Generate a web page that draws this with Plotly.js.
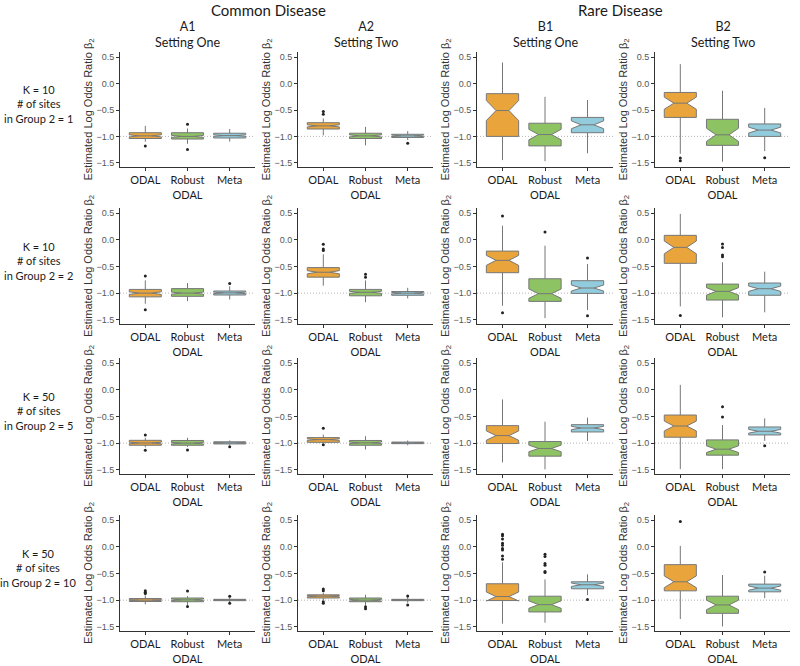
<!DOCTYPE html>
<html>
<head>
<meta charset="utf-8">
<script src="https://cdn.plot.ly/plotly-3.0.1.min.js"></script>
<style>html,body{margin:0;padding:0;background:#fff;}</style>
</head>
<body>
<div id="chart" style="width:800px;height:666px;"></div>
<script>
// Categories (x axis) and colours per method
const methods = ['ODAL', 'Robust<br>ODAL', 'Meta'];
const methodColors = ['#E9A53B', '#8DC362', '#92CCDC'];

// Panel headers
const columnTitles = ['A1<br>Setting One', 'A2<br>Setting Two', 'B1<br>Setting One', 'B2<br>Setting Two'];
const groupTitles = ['Common Disease', 'Rare Disease'];
const rowTitles = ['K = 10<br># of sites<br>in Group 2 = 1', 'K = 10<br># of sites<br>in Group 2 = 2',
                   'K = 50<br># of sites<br>in Group 2 = 5', 'K = 50<br># of sites<br>in Group 2 = 10'];
const yTicks = [-1.5, -1.0, -0.5, 0.0, 0.5];
const trueValue = -1.0;

// Box statistics per panel (row-major: row1 A1,A2,B1,B2, row2 ...), each [ODAL, Robust ODAL, Meta]
const Q3 = [
  [-0.93, -0.93, -0.94], [-0.74, -0.94, -0.96], [-0.19, -0.75, -0.64], [-0.167, -0.676, -0.764],
  [-0.93, -0.915, -0.96], [-0.52, -0.93, -0.97], [-0.21, -0.73, -0.766], [0.086, -0.83, -0.81],
  [-0.947, -0.95, -0.975], [-0.896, -0.95, -0.98], [-0.671, -0.97, -0.653], [-0.472, -0.939, -0.696],
  [-0.97, -0.96, -0.985], [-0.9, -0.96, -0.985], [-0.692, -0.926, -0.655], [-0.333, -0.926, -0.699]
];
const MED = [
  [-0.99, -1.0, -0.985], [-0.8, -0.99, -0.99], [-0.51, -0.965, -0.78], [-0.37, -0.97, -0.88],
  [-1.0, -1.0, -0.995], [-0.607, -0.985, -1.0], [-0.384, -1.01, -0.904], [-0.14, -0.967, -0.917],
  [-0.997, -1.0, -0.995], [-0.934, -0.995, -0.995], [-0.858, -1.10, -0.715], [-0.678, -1.114, -0.777],
  [-1.0, -0.995, -0.995], [-0.925, -1.0, -0.995], [-0.932, -1.084, -0.711], [-0.655, -1.09, -0.774]
];
const Q1 = [
  [-1.04, -1.05, -1.03], [-0.86, -1.04, -1.02], [-1.0, -1.18, -0.93], [-0.64, -1.17, -1.0],
  [-1.07, -1.06, -1.035], [-0.70, -1.05, -1.04], [-0.616, -1.155, -1.005], [-0.44, -1.13, -1.04],
  [-1.04, -1.04, -1.015], [-0.985, -1.04, -1.01], [-1.008, -1.245, -0.79], [-0.889, -1.226, -0.846],
  [-1.025, -1.03, -1.01], [-0.96, -1.03, -1.01], [-1.008, -1.222, -0.787], [-0.825, -1.248, -0.844]
];
const HI = [
  [-0.8, -0.85, -0.86], [-0.66, -0.82, -0.9], [0.40, -0.25, -0.31], [0.37, -0.135, -0.46],
  [-0.76, -0.81, -0.87], [-0.27, -0.76, -0.9], [0.268, -0.108, -0.453], [0.49, -0.42, -0.597],
  [-0.9, -0.9, -0.95], [-0.84, -0.87, -0.95], [-0.179, -0.597, -0.52], [0.095, -0.66, -0.534],
  [-0.91, -0.925, -0.95], [-0.86, -0.9, -0.94], [-0.289, -0.61, -0.516], [0.02, -0.528, -0.54]
];
const LO = [
  [-1.1, -1.14, -1.1], [-0.98, -1.17, -1.07], [-1.45, -1.47, -1.32], [-1.33, -1.48, -1.28],
  [-1.2, -1.15, -1.12], [-0.86, -1.17, -1.1], [-1.237, -1.47, -1.318], [-1.25, -1.456, -1.36],
  [-1.08, -1.07, -1.03], [-1.0, -1.12, -1.04], [-1.363, -1.494, -0.958], [-1.488, -1.488, -0.958],
  [-1.08, -1.09, -1.04], [-1.0, -1.1, -1.05], [-1.443, -1.424, -0.907], [-1.355, -1.494, -0.964]
];
const NOTCH = [
  [0.02, 0.02, 0.015], [0.02, 0.02, 0.015], [0.19, 0.10, 0.075], [0.115, 0.125, 0.055],
  [0.025, 0.02, 0.015], [0.03, 0.02, 0.015], [0.094, 0.088, 0.057], [0.12, 0.07, 0.05],
  [0.015, 0.015, 0.01], [0.015, 0.015, 0.01], [0.088, 0.063, 0.031], [0.093, 0.063, 0.035],
  [0.01, 0.015, 0.008], [0.012, 0.015, 0.008], [0.085, 0.07, 0.032], [0.11, 0.09, 0.04]
];
const OUTLIERS = [
  [[-1.18], [-0.77, -1.25], []], [[-0.53, -0.58], [], [-1.13]], [[], [], []], [[-1.41, -1.46], [], [-1.405]],
  [[-0.68, -1.31], [], [-0.82]], [[-0.08, -0.17, -0.2], [-0.645, -0.7], []], [[0.45, -1.37], [0.149], [-0.34, -1.425]], [[-1.42], [-0.077, -0.14, -0.284, -0.315], []],
  [[-0.845, -1.135], [-1.13], [-1.07]], [[-0.72, -1.03], [], []], [[], [], []], [[], [-0.316, -0.509], [-1.05]],
  [[-0.825, -0.85, -0.875], [-0.83, -1.12], [-0.925, -1.06]], [[-0.79, -0.825, -1.03, -1.06], [-1.125, -1.16], [-0.92, -1.09]],
  [[0.24, 0.21, 0.15, 0.07, 0.03, -0.03, -0.06, -0.17, -0.23], [-0.137, -0.18, -0.31, -0.345, -0.46, -0.48], [-0.989]],
  [[0.48], [], [-0.47]]
];

// Layout geometry (pixels)
const W = 800, H = 666;
const colPx = [[120, 255], [298, 433], [477, 613], [655, 790]];
const rowPx = [[52, 167], [208, 324], [358, 474], [515, 631]];

const traces = [];
const layout = {
  width: W, height: H,
  margin: {l: 0, r: 0, t: 0, b: 0},
  paper_bgcolor: '#fff', plot_bgcolor: '#fff',
  showlegend: false,
  boxmode: 'overlay',
  annotations: [], shapes: []
};

for (let r = 0; r < 4; r++) {
  for (let c = 0; c < 4; c++) {
    const p = r * 4 + c;
    const n = p + 1;
    const xa = 'x' + (n === 1 ? '' : n), ya = 'y' + (n === 1 ? '' : n);
    const xk = 'xaxis' + (n === 1 ? '' : n), yk = 'yaxis' + (n === 1 ? '' : n);
    layout[xk] = {
      domain: [colPx[c][0] / W, colPx[c][1] / W],
      anchor: ya, type: 'category',
      categoryorder: 'array', categoryarray: methods,
      range: [-0.6, 2.6],
      showline: true, linecolor: '#333', linewidth: 1,
      ticks: 'outside', ticklen: 3, tickcolor: '#333',
      showgrid: false, zeroline: false, fixedrange: true,
      tickfont: {family: 'Lato, "Open Sans", sans-serif', size: 11, color: '#1a1a1a'}
    };
    layout[yk] = {
      domain: [1 - rowPx[r][1] / H, 1 - rowPx[r][0] / H],
      anchor: xa,
      range: [-1.58, 0.6],
      tickvals: yTicks, tickformat: '.1f',
      showline: true, linecolor: '#333', linewidth: 1,
      ticks: 'outside', ticklen: 3, tickcolor: '#333',
      showgrid: false, zeroline: false, fixedrange: true,
      tickfont: {family: '"Liberation Sans", Arial, sans-serif', size: 9, color: '#555'},
      title: {text: 'Estimated Log Odds Ratio β<sub>2</sub>', standoff: 0,
              font: {family: '"Liberation Sans", Arial, sans-serif', size: 11, color: '#333'}}
    };
    // reference line at the true value
    layout.shapes.push({
      type: 'line', xref: xa + ' domain', yref: ya, x0: 0, x1: 1, y0: trueValue, y1: trueValue,
      line: {color: '#b5b5b5', width: 1, dash: '1px,2px'}, layer: 'below'
    });
    for (let m = 0; m < 3; m++) {
      traces.push({
        type: 'box', xaxis: xa, yaxis: ya,
        x: [methods[m]],
        q1: [Q1[p][m]], median: [MED[p][m]], q3: [Q3[p][m]],
        lowerfence: [LO[p][m]], upperfence: [HI[p][m]],
        notchspan: [NOTCH[p][m]], notched: true, notchwidth: 0.3,
        width: 0.76, whiskerwidth: 0, boxpoints: false,
        fillcolor: methodColors[m],
        line: {color: '#777', width: 1},
        hoverinfo: 'skip'
      });
      if (OUTLIERS[p][m].length) {
        traces.push({
          type: 'scatter', mode: 'markers', xaxis: xa, yaxis: ya,
          x: OUTLIERS[p][m].map(() => methods[m]), y: OUTLIERS[p][m],
          marker: {size: 3, color: '#222'}, hoverinfo: 'skip'
        });
      }
    }
  }
}

// Column headers
const colCenters = colPx.map(cp => (cp[0] + cp[1]) / 2);
columnTitles.forEach((t, c) => {
  layout.annotations.push({
    text: t, xref: 'paper', yref: 'paper', x: colCenters[c] / W, y: 1 - 35 / H,
    xanchor: 'center', yanchor: 'middle', showarrow: false,
    font: {family: 'Lato, "Open Sans", sans-serif', size: 12.5, color: '#1a1a1a'}
  });
});
[[268, 10], [620, 10]].forEach((pos, i) => {
  layout.annotations.push({
    text: groupTitles[i], xref: 'paper', yref: 'paper', x: pos[0] / W, y: 1 - pos[1] / H,
    xanchor: 'center', yanchor: 'middle', showarrow: false,
    font: {family: 'Lato, "Open Sans", sans-serif', size: 15, color: '#1a1a1a'}
  });
});
rowTitles.forEach((t, r) => {
  const yc = (rowPx[r][0] + rowPx[r][1]) / 2 - 5;
  layout.annotations.push({
    text: t, xref: 'paper', yref: 'paper', x: 38 / W, y: 1 - yc / H,
    xanchor: 'center', yanchor: 'middle', showarrow: false,
    font: {family: 'Lato, "Open Sans", sans-serif', size: 11, color: '#1a1a1a'}
  });
});

Plotly.newPlot('chart', traces, layout, {displayModeBar: false, staticPlot: true});
</script>
</body>
</html>
